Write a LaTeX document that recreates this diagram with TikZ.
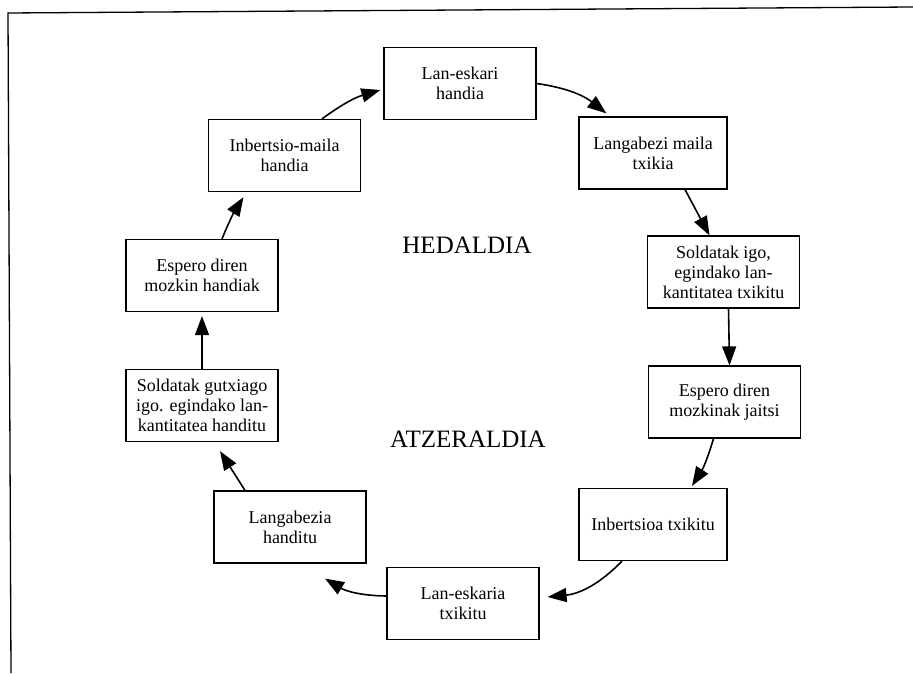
\documentclass[tikz,border=0pt]{standalone}
\usepackage{fontspec}
\setmainfont{Liberation Serif}
\usetikzlibrary{arrows.meta}
\begin{document}
\begin{tikzpicture}[x=1pt,y=1pt,
  cbox/.style={draw,line width=1.2pt,minimum width=152pt,minimum height=72pt,inner sep=1pt,align=center,
    font=\fontsize{18}{20}\selectfont},
  flow/.style={line width=1.6pt,-{Triangle[length=19pt,width=14pt]}},
  phase/.style={anchor=base,font=\fontsize{25}{28}\selectfont}]
\useasboundingbox (0,0) rectangle (913,673);
% frame
\draw[line width=1.3pt] (11,0) -- (8,660) -- (913,666);
% boxes
\node[cbox] (b1) at (460,589.5) {Lan-eskari\\handia};
\node[cbox] (b2) at (284.5,517.5) {Inbertsio-maila\\handia};
\node[cbox] (b3) at (202,397.5) {Espero diren\\mozkin handiak};
\node[cbox] (b4) at (202,267.5) {Soldatak gutxiago\\igo. egindako lan-\\kantitatea handitu};
\node[cbox] (b5) at (290,146) {Langabezia\\handitu};
\node[cbox] (b6) at (463,69.5) {Lan-eskaria\\txikitu};
\node[cbox,minimum width=148pt] (b7) at (653,148.5) {Inbertsioa txikitu};
\node[cbox] (b8) at (724.5,271) {Espero diren\\mozkinak jaitsi};
\node[cbox] (b9) at (723.5,401) {Soldatak igo,\\egindako lan-\\kantitatea txikitu};
\node[cbox,minimum width=148pt] (b10) at (653,520) {Langabezi maila\\txikia};
% phase labels
\node[phase] (hed) at (467,419) {HEDALDIA};
\node[phase] (atz) at (468,226) {ATZERALDIA};
% connectors
\draw[flow] (b1.east) to[bend left=15] ([xshift=28pt,yshift=3pt]b10.north west);
\draw[flow] ([xshift=32pt]b10.south) -- ([xshift=-14pt]b9.north);
\draw[flow] ([xshift=5pt]b9.south) -- ([xshift=5pt]b8.north);
\draw[flow] ([xshift=-11pt]b8.south) to[bend left=8] ([xshift=39pt,yshift=2pt]b7.north);
\draw[flow] ([xshift=-31pt]b7.south) to[bend left=20] ([xshift=8pt,yshift=6.5pt]b6.east);
\draw[flow] ([yshift=7.5pt]b6.west) to[bend left=15] ([xshift=35pt,yshift=-15pt]b5.south);
\draw[flow] ([xshift=-45pt]b5.north) -- ([xshift=18pt,yshift=-9pt]b4.south);
\draw[flow] (b4.north) -- ([yshift=-4pt]b3.south);
\draw[flow] ([xshift=20pt]b3.north) to[bend left=5] ([xshift=-41pt,yshift=-5pt]b2.south);
\draw[flow] ([xshift=37.5pt]b2.north) to[bend left=10] ([xshift=-3pt,yshift=-6.5pt]b1.west);
\end{tikzpicture}
\end{document}
